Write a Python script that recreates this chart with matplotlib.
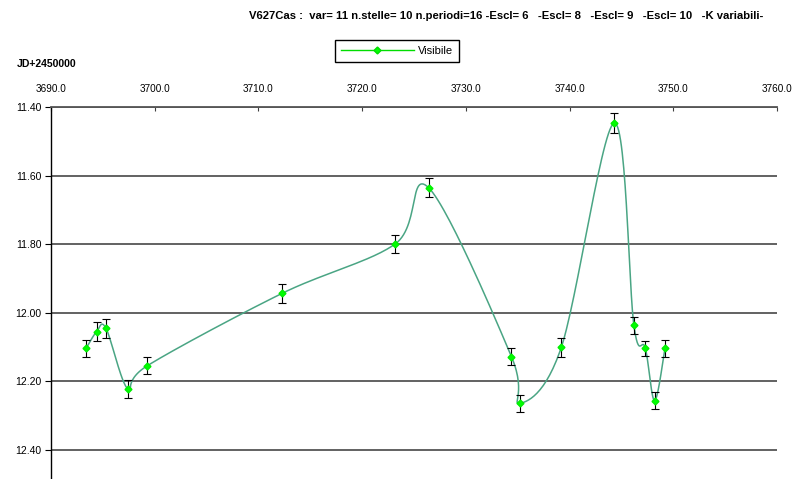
import matplotlib.pyplot as plt
import numpy as np

# JD - 2450000 and visual magnitude
jd = [3693.4, 3694.4, 3695.3, 3697.4, 3699.3, 3712.3, 3723.2, 3726.4,
      3734.4, 3735.2, 3739.2, 3744.3, 3746.2, 3747.3, 3748.2, 3749.2]
mag = [12.103, 12.055, 12.045, 12.222, 12.154, 11.943, 11.799, 11.635,
       12.128, 12.264, 12.101, 11.447, 12.036, 12.103, 12.256, 12.103]
err = [0.025, 0.027, 0.027, 0.025, 0.025, 0.027, 0.027, 0.028,
       0.025, 0.025, 0.027, 0.030, 0.025, 0.022, 0.025, 0.025]

title = ("V627Cas :  var= 11 n.stelle= 10 n.periodi=16 -Escl= 6   -Escl= 8   "
         "-Escl= 9   -Escl= 10   -K variabili-")

plt.rcParams['font.family'] = ['Liberation Sans', 'DejaVu Sans']


def smooth(x, y, sx, sy, n=30):
    # Excel-style smoothed line (Bezier through the points), done in screen units
    px = np.asarray(x) * sx
    py = np.asarray(y) * sy
    P = np.column_stack([px, py])
    out = []
    for i in range(len(P) - 1):
        p0 = P[i - 1] if i > 0 else P[i]
        p1 = P[i]
        p2 = P[i + 1]
        p3 = P[i + 2] if i + 2 < len(P) else P[i + 1]
        c1 = p1 + (p2 - p0) / 6
        c2 = p2 - (p3 - p1) / 6
        t = np.linspace(0, 1, n)[:, None]
        seg = ((1 - t) ** 3) * p1 + 3 * ((1 - t) ** 2) * t * c1 + 3 * (1 - t) * t ** 2 * c2 + t ** 3 * p2
        out.append(seg if i == 0 else seg[1:])
    out = np.vstack(out)
    return out[:, 0] / sx, out[:, 1] / sy


fig = plt.figure(figsize=(7.96, 4.79), dpi=100)
ax = fig.add_axes([51 / 796, 0, (777 - 51) / 796, 1 - 107 / 479])

ax.set_xlim(3690, 3760)
ax.set_ylim(12.4845, 11.40)

xs, ys = smooth(jd, mag, 10.37, 343)
ax.plot(xs, ys, color='#4aa584', lw=1.1, zorder=3)
ax.errorbar(jd, mag, yerr=err, fmt='none', ecolor='black', elinewidth=0.8,
            capsize=3, capthick=0.8, zorder=4)
ax.plot(jd, mag, 'D', color='#00ff00', ms=3.5, mec='#00ee00', zorder=5)

ax.set_yticks([11.40, 11.60, 11.80, 12.00, 12.20, 12.40])
ax.set_yticklabels(['11.40', '11.60', '11.80', '12.00', '12.20', '12.40'])
ax.set_xticks(np.arange(3690, 3761, 10))
ax.set_xticklabels([f"{v:.1f}" for v in np.arange(3690, 3761, 10)])
ax.xaxis.tick_top()
ax.tick_params(axis='x', direction='in', length=3, labelsize=7.2, pad=9, color='#404040')
ax.tick_params(axis='y', direction='out', length=4, labelsize=7.5, pad=3)
ax.grid(axis='y', color='#555555', lw=1.3)
ax.set_axisbelow(True)
for s in ['right', 'bottom']:
    ax.spines[s].set_visible(False)
ax.spines['top'].set_color('#555555')
ax.spines['top'].set_linewidth(1.3)
ax.spines['left'].set_linewidth(1.0)

fig.text(506 / 796, 1 - 16 / 479, title, ha='center', va='center', fontsize=8.1, fontweight='bold')
fig.text(17 / 796, 1 - 64 / 479, 'JD+2450000', ha='left', va='center', fontsize=7.5, fontweight='bold')

h, = plt.plot([], [], '-D', color='#00dd00', ms=3.5, mfc='#00ff00', lw=1)
fig.legend([h], ['Visibile'], loc='center', bbox_to_anchor=(397 / 796, 1 - 51 / 479),
           frameon=True, fancybox=False, edgecolor='black', fontsize=8,
           handlelength=6.6, handletextpad=0.4, borderpad=0.5, framealpha=1)

fig.savefig('out.png', dpi=100)
